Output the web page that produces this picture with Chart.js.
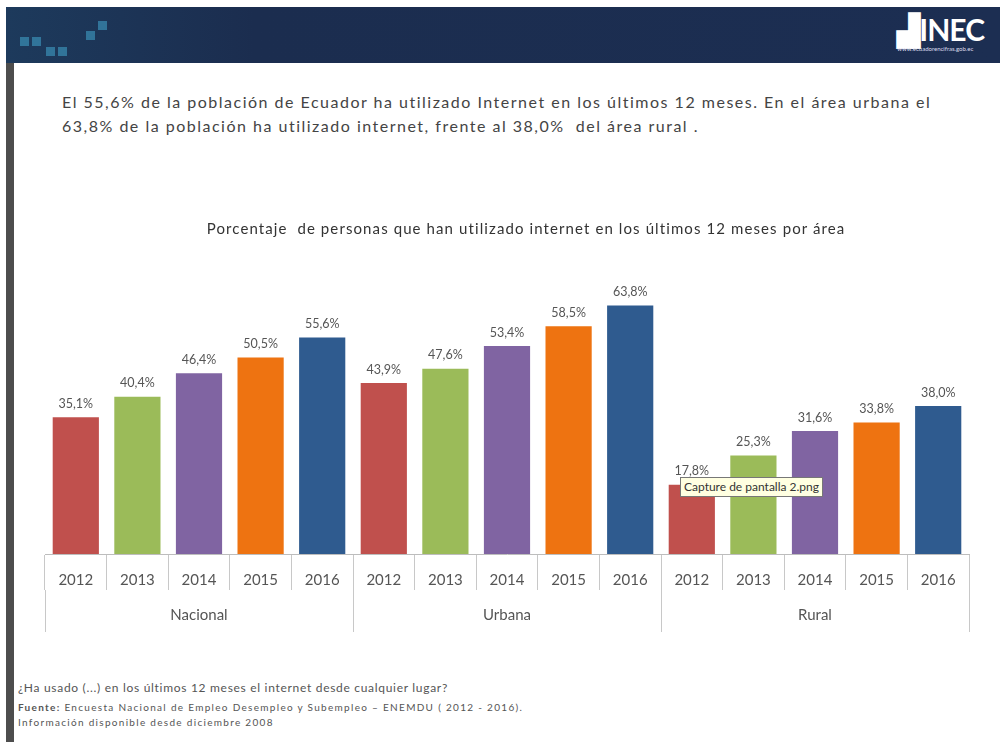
<!DOCTYPE html>
<html>
<head>
<meta charset="utf-8">
<script src="https://cdn.jsdelivr.net/npm/chart.js@4"></script>
<style>
  body { margin: 0; background: #fff; font-family: Lato, "Open Sans", sans-serif; }
  #slide { position: relative; width: 1000px; height: 742px; overflow: hidden; background: #fff; }
  #header { position: absolute; left: 6px; top: 7px; width: 994px; height: 56px;
            background: linear-gradient(90deg, #1d3a5c 0%, #1b2d4f 25%, #1c2e52 100%); }
  #header .sq { position: absolute; width: 9px; height: 9px; background: #3a8fb5; opacity: .7; }
  #logo { position: absolute; right: 16px; top: 4px; color: #fff; font: 700 30px Lato, sans-serif; letter-spacing: -1px; }
  #logo small { display: block; font: 400 6px Lato, sans-serif; letter-spacing: 0; margin-top: -3px; color: #dde; }
  #border { position: absolute; left: 6px; top: 63px; width: 8px; height: 679px; background: #4d4d4d; }
  #intro { position: absolute; left: 62px; top: 90px; width: 930px; color: #444; font-size: 16px;
           line-height: 24px; letter-spacing: 1.5px; white-space: nowrap; }
  #ctitle { position: absolute; left: 0; top: 219px; width: 1052px; text-align: center; color: #333;
            font-size: 15px; letter-spacing: 1.1px; white-space: nowrap; }
  #chartBox { position: absolute; left: 0; top: 190px; width: 1000px; height: 460px; }
  #tip { position: absolute; left: 680px; top: 477px; padding: 1px 3px; background: #ffffe1; border: 1px solid #777;
         font-size: 12px; color: #333; line-height: 16px; }
  #notes { position: absolute; left: 18px; top: 680px; color: #555; white-space: nowrap; }
  #notes .q { font-size: 12px; letter-spacing: 0.7px; line-height: 16px; margin-bottom: 4px; }
  #notes .s { font-size: 10px; letter-spacing: 1.3px; line-height: 15px; }
</style>
</head>
<body>
<div id="slide">
  <div id="header">
    <div class="sq" style="left:14px;top:30px"></div>
    <div class="sq" style="left:26px;top:30px"></div>
    <div class="sq" style="left:40px;top:40px"></div>
    <div class="sq" style="left:52px;top:40px"></div>
    <div class="sq" style="left:80px;top:24px"></div>
    <div class="sq" style="left:92px;top:14px"></div>
    <div id="logo">▟INEC<small>www.ecuadorencifras.gob.ec</small></div>
  </div>
  <div id="border"></div>
  <div id="intro">El 55,6% de la población de Ecuador ha utilizado Internet en los últimos 12 meses. En el área urbana el<br>63,8% de la población ha utilizado internet, frente al 38,0%&nbsp; del área rural .</div>
  <div id="chartBox"><canvas id="myChart" width="1000" height="460"></canvas></div>
  <div id="ctitle">Porcentaje&nbsp; de personas que han utilizado internet en los últimos 12 meses por área</div>
  <div id="tip">Capture de pantalla 2.png</div>
  <div id="notes">
    <div class="q">¿Ha usado (...) en los últimos 12 meses el internet desde cualquier lugar?</div>
    <div class="s"><b>Fuente:</b> Encuesta Nacional de Empleo Desempleo y Subempleo – ENEMDU ( 2012 - 2016).</div>
    <div class="s">Información disponible desde diciembre 2008</div>
  </div>
</div>
<script>
const years = ["2012", "2013", "2014", "2015", "2016",
               "2012", "2013", "2014", "2015", "2016",
               "2012", "2013", "2014", "2015", "2016"];
const areas = ["Nacional", "Urbana", "Rural"];
const nacional = [35.1, 40.4, 46.4, 50.5, 55.6];
const urbana = [43.9, 47.6, 53.4, 58.5, 63.8];
const rural = [17.8, 25.3, 31.6, 33.8, 38.0];
const yearColors = ["#c0504d", "#9bbb59", "#8064a2", "#ee7311", "#2f5b8f"];

const values = nacional.concat(urbana, rural);
const barColors = [];
for (let i = 0; i < values.length; i++) {
    barColors.push(yearColors[i % 5]);
}

// value labels above every bar
const valueLabels = {
    id: 'valueLabels',
    afterDatasetsDraw(chart) {
        const ctx = chart.ctx;
        const meta = chart.getDatasetMeta(0);
        ctx.save();
        ctx.font = '12.5px Lato, sans-serif';
        ctx.fillStyle = '#555';
        ctx.textAlign = 'center';
        ctx.textBaseline = 'bottom';
        meta.data.forEach((bar, i) => {
            const txt = values[i].toFixed(1).replace('.', ',') + '%';
            ctx.fillText(txt, bar.x, bar.y - 7);
        });
        ctx.restore();
    }
};

// empty axis titles only make room so the tick labels are not clipped
new Chart("myChart", {
    type: "bar",
    data: {
        labels: years,
        datasets: [{
            data: values,
            backgroundColor: barColors,
            barPercentage: 0.75,
            categoryPercentage: 1
        }]
    },
    options: {
        responsive: false,
        animation: false,
        layout: { padding: { left: 45, right: 31, top: 72, bottom: 18 } },
        plugins: {
            legend: { display: false },
            tooltip: { enabled: false }
        },
        scales: {
            y: { display: false, min: 0, max: 75 },
            x: {
                offset: true,
                grid: { display: true, offset: true, drawOnChartArea: false, drawTicks: true,
                        tickLength: 36, color: '#c8c8c8' },
                border: { display: true, color: '#bdbdbd' },
                ticks: { color: '#555', padding: -19, maxRotation: 0, autoSkip: false,
                         font: { family: 'Lato', size: 15 } },
                title: { display: true, text: '', font: { size: 10, lineHeight: 1 }, padding: { top: 5, bottom: 5 } }
            },
            x2: {
                type: 'category',
                position: 'bottom',
                labels: areas,
                offset: true,
                grid: { display: true, offset: true, drawOnChartArea: false, drawTicks: true,
                        tickLength: 42, color: '#c8c8c8' },
                border: { display: false },
                ticks: { color: '#555', padding: -26, maxRotation: 0,
                         font: { family: 'Lato', size: 15 } },
                title: { display: true, text: '', font: { size: 10, lineHeight: 1 }, padding: { top: 12, bottom: 12 } }
            }
        }
    },
    plugins: [valueLabels]
});
</script>
</body>
</html>
